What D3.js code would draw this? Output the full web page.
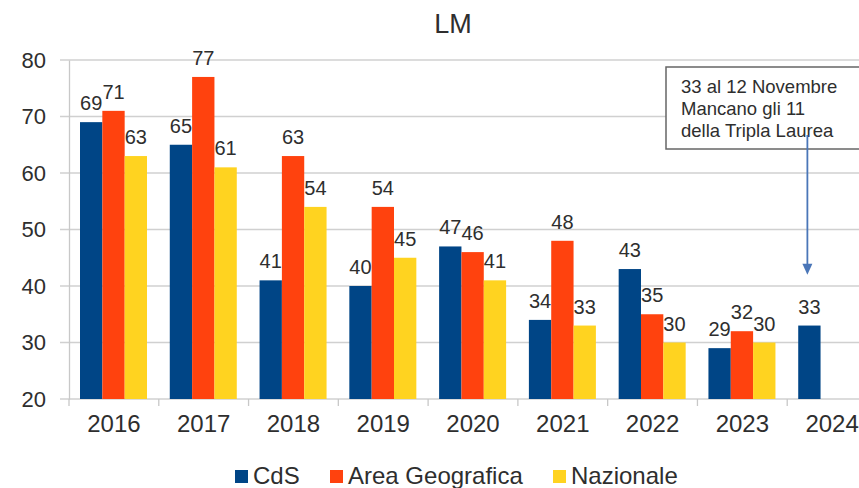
<!DOCTYPE html>
<html>
<head>
<meta charset="utf-8">
<script src="https://cdn.jsdelivr.net/npm/d3@7"></script>
<style>
  html, body { margin: 0; padding: 0; background: #fff; }
  svg { display: block; font-family: "Liberation Sans", Arial, sans-serif; }
</style>
</head>
<body>
<svg id="chart" width="859" height="488"></svg>
<script>
// chart data
const years = ["2016", "2017", "2018", "2019", "2020", "2021", "2022", "2023", "2024"];
const seriesNames = ["CdS", "Area Geografica", "Nazionale"];
const cds = [69, 65, 41, 40, 47, 34, 43, 29, 33];
const areaGeo = [71, 77, 63, 54, 46, 48, 35, 32, null];
const nazionale = [63, 61, 54, 45, 41, 33, 30, 30, null];
const yTicks = [20, 30, 40, 50, 60, 70, 80];
const noteLines = ["33 al 12 Novembre", "Mancano gli 11", "della Tripla Laurea"];
const noteYear = "2024";
const noteValue = 42;

const colors = ["#004586", "#ff420e", "#ffd320"];
const textColor = "#2e2e2e";

const svg = d3.select("#chart");

const x0 = d3.scaleBand().domain(years).range([69, 877]);
const x1 = d3.scaleBand().domain(seriesNames).range([11, 78]);
const y = d3.scaleLinear().domain([20, 80]).range([399, 60]);

const rows = years.map((yr, i) => ({
  year: yr,
  values: [cds[i], areaGeo[i], nazionale[i]]
}));

// grid
svg.append("g")
  .selectAll("line")
  .data(yTicks)
  .join("line")
  .attr("x1", 60)
  .attr("x2", 877)
  .attr("y1", (d) => y(d))
  .attr("y2", (d) => y(d))
  .attr("stroke", "#d0d0d0")
  .attr("stroke-width", 1.3);

// y axis
const yAxis = svg.append("g")
  .attr("transform", "translate(69,0)")
  .call(d3.axisLeft(y).tickValues(yTicks).tickSize(0).tickPadding(23));
yAxis.select(".domain").attr("stroke", "#c8c8c8").attr("stroke-width", 1.3);
yAxis.selectAll("text")
  .attr("fill", textColor)
  .style("font-size", "22px")
  .style("font-family", "Liberation Sans, Arial, sans-serif");

// x axis
const xAxis = svg.append("g")
  .attr("transform", "translate(0,399)")
  .call(d3.axisBottom(x0).tickSize(0).tickPadding(16));
xAxis.select(".domain").remove();
xAxis.selectAll("text")
  .attr("fill", textColor)
  .style("font-size", "24px")
  .style("font-family", "Liberation Sans, Arial, sans-serif");
svg.append("g")
  .selectAll("line")
  .data(years)
  .join("line")
  .attr("x1", (d) => x0(d))
  .attr("x2", (d) => x0(d))
  .attr("y1", 399)
  .attr("y2", 406)
  .attr("stroke", "#c8c8c8")
  .attr("stroke-width", 1.3);

// bars
const groups = svg.append("g")
  .selectAll("g")
  .data(rows)
  .join("g")
  .attr("transform", (d) => `translate(${x0(d.year)},0)`);

const cells = groups.selectAll("g")
  .data((d) => d.values.map((v, i) => ({ name: seriesNames[i], value: v, i })).filter((c) => c.value != null))
  .join("g");

cells.append("rect")
  .attr("x", (d) => x1(d.name))
  .attr("width", x1.bandwidth())
  .attr("y", (d) => y(d.value))
  .attr("height", (d) => y(20) - y(d.value))
  .attr("fill", (d) => colors[d.i]);

cells.append("text")
  .attr("x", (d) => x1(d.name) + x1.bandwidth() / 2)
  .attr("y", (d) => y(d.value) - 12)
  .attr("text-anchor", "middle")
  .attr("fill", textColor)
  .style("font-size", "20px")
  .text((d) => d.value);

// title
svg.append("text")
  .attr("x", 453)
  .attr("y", 33)
  .attr("text-anchor", "middle")
  .attr("fill", textColor)
  .style("font-size", "27px")
  .text("LM");

// legend
const legendX = [235, 330, 553];
const legend = svg.append("g")
  .selectAll("g")
  .data(seriesNames)
  .join("g")
  .attr("transform", (d, i) => `translate(${legendX[i]},470)`);
legend.append("rect")
  .attr("width", 13)
  .attr("height", 13)
  .attr("fill", (d, i) => colors[i]);
legend.append("text")
  .attr("x", 18)
  .attr("y", 14)
  .attr("fill", textColor)
  .style("font-size", "24px")
  .text((d) => d);

// annotation
const note = svg.append("g");
note.append("rect")
  .attr("x", 666)
  .attr("y", 67)
  .attr("width", 210)
  .attr("height", 82)
  .attr("fill", "#fff")
  .attr("stroke", "#666")
  .attr("stroke-width", 1.5);
note.selectAll("text")
  .data(noteLines)
  .join("text")
  .attr("x", 681)
  .attr("y", (d, i) => 93 + i * 22)
  .attr("fill", textColor)
  .style("font-size", "18.5px")
  .text((d) => d);

const ax = x0(noteYear) + x1("CdS") + x1.bandwidth() / 2 - 2;
const tipY = y(noteValue);
note.append("line")
  .attr("x1", ax)
  .attr("x2", ax)
  .attr("y1", 135)
  .attr("y2", tipY - 8)
  .attr("stroke", "#4a76b8")
  .attr("stroke-width", 1.8);
note.append("path")
  .attr("d", `M${ax - 5},${tipY - 11} L${ax + 5},${tipY - 11} L${ax},${tipY} Z`)
  .attr("fill", "#4a76b8");
</script>
</body>
</html>
